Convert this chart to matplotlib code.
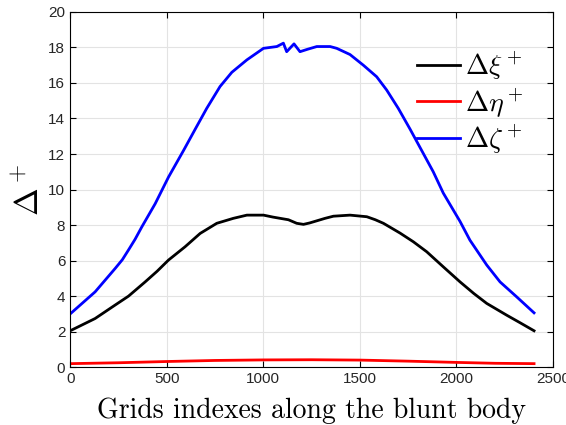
import matplotlib
matplotlib.use("Agg")
import matplotlib.pyplot as plt
import numpy as np

plt.rcParams['mathtext.fontset'] = 'cm'
plt.rcParams['font.family'] = ['Liberation Sans', 'DejaVu Sans']

# grid index along the body and the three spacing components
x_xi = [0, 129, 233, 302, 388, 450, 509, 595, 673, 759, 845, 915, 1001, 1050,
        1087, 1130, 1173, 1208, 1240, 1277, 1320, 1363, 1449, 1536, 1580, 1622,
        1708, 1777, 1846, 1932, 2019, 2090, 2157, 2260, 2330, 2402]
d_xi = [2.05, 2.74, 3.5, 4.0, 4.8, 5.4, 6.03, 6.78, 7.53, 8.1, 8.38, 8.56, 8.56, 8.45,
        8.38, 8.3, 8.1, 8.04, 8.12, 8.24, 8.38, 8.5, 8.56, 8.47, 8.3, 8.1,
        7.55, 7.06, 6.5, 5.65, 4.8, 4.15, 3.59, 2.93, 2.5, 2.05]

x_eta = [0, 250, 500, 750, 1000, 1250, 1500, 1750, 2000, 2200, 2402]
d_eta = [0.2, 0.25, 0.32, 0.38, 0.41, 0.42, 0.4, 0.34, 0.27, 0.22, 0.2]

x_zeta = [0, 129, 233, 270, 302, 336, 371, 440, 509, 587, 650, 707, 776, 837, 915, 1001,
          1070, 1104, 1121, 1159, 1190, 1230, 1277, 1346, 1380, 1449, 1518,
          1587, 1639, 1699, 1760, 1820, 1880, 1932, 2019, 2070, 2157, 2226,
          2312, 2402]
d_zeta = [3.0, 4.24, 5.56, 6.05, 6.6, 7.2, 7.9, 9.2, 10.7, 12.2, 13.45, 14.57, 15.8, 16.6,
          17.3, 17.95, 18.05, 18.24, 17.76, 18.2, 17.76, 17.9, 18.05, 18.05, 17.95, 17.6,
          17.0, 16.35, 15.6, 14.57, 13.4, 12.2, 11.0, 9.8, 8.2, 7.15, 5.75, 4.8,
          3.96, 3.06]

fig = plt.figure(figsize=(5.66, 4.25), dpi=100)
ax = fig.add_axes([0.124, 0.136, 0.853, 0.836])

ax.plot(x_xi, d_xi, color='black', lw=2.0, label=r'$\Delta\xi^+$')
ax.plot(x_eta, d_eta, color='red', lw=2.0, label=r'$\Delta\eta^+$')
ax.plot(x_zeta, d_zeta, color='blue', lw=2.0, label=r'$\Delta\zeta^+$')

ax.set_xlim(0, 2500)
ax.set_ylim(0, 20)
ax.set_xticks(np.arange(0, 2501, 500))
ax.set_yticks(np.arange(0, 21, 2))
ax.grid(True, color='#e3e3e3', lw=0.8)
ax.set_axisbelow(True)
ax.tick_params(direction='in', top=True, right=True, labelsize=11,
               labelcolor='#262626', length=4)
for s in ax.spines.values():
    s.set_linewidth(0.8)

ax.set_xlabel('Grids indexes along the blunt body', family='cmr10', fontsize=20,
              labelpad=8)
ax.set_ylabel(r'$\Delta^+$', fontsize=24, labelpad=2)

ax.legend(loc='upper right', bbox_to_anchor=(0.99, 0.965), frameon=False,
          fontsize=20, handlelength=1.55, handletextpad=0.2, labelspacing=0.15)

fig.savefig('out.png', dpi=100)
